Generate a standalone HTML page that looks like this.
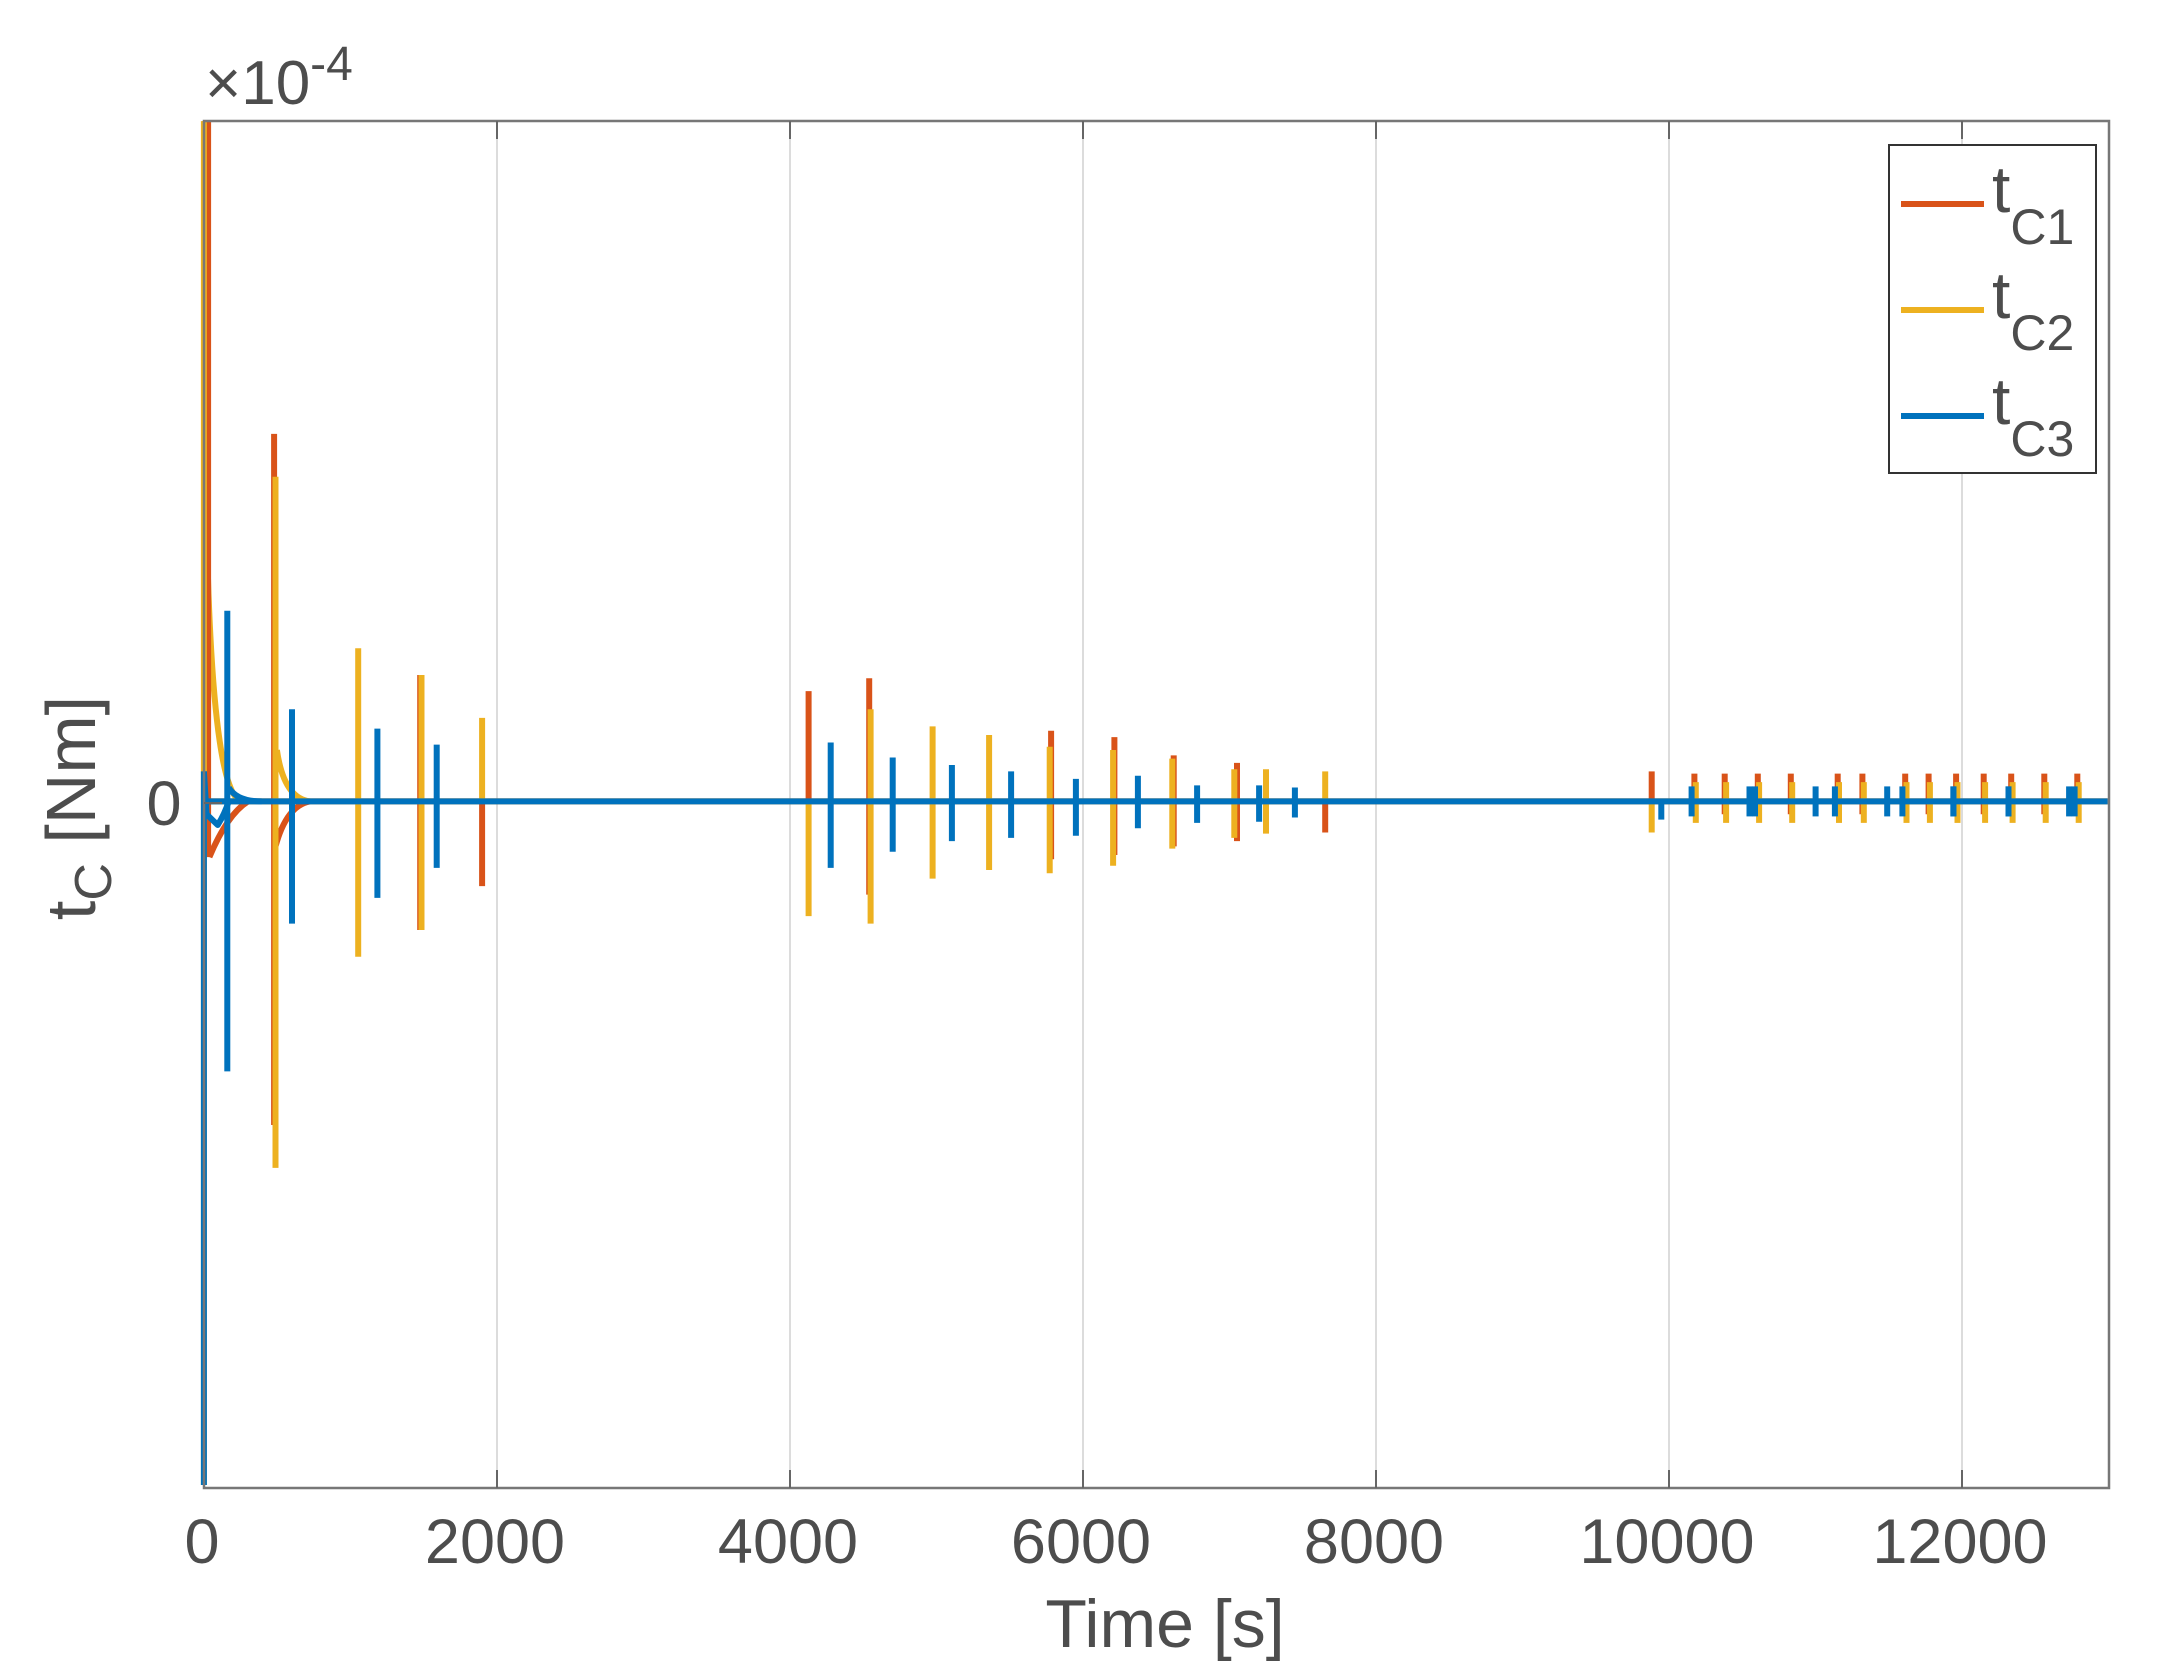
<!DOCTYPE html>
<html><head><meta charset="utf-8"><style>
html,body{margin:0;padding:0;background:#fff;}
svg{display:block;font-family:"Liberation Sans",sans-serif;}
</style></head><body>
<svg id="s" width="2160" height="1680" viewBox="0 0 2160 1680">
<rect width="2160" height="1680" fill="#fff"/>
<g stroke="#dcdcdc" stroke-width="2">
<line x1="497" y1="121" x2="497" y2="1488"/>
<line x1="790" y1="121" x2="790" y2="1488"/>
<line x1="1083" y1="121" x2="1083" y2="1488"/>
<line x1="1376" y1="121" x2="1376" y2="1488"/>
<line x1="1669" y1="121" x2="1669" y2="1488"/>
<line x1="1962" y1="121" x2="1962" y2="1488"/>
</g>
<g id="data" fill="none" stroke-linejoin="round"></g>
<rect x="204" y="121" width="1905" height="1367" fill="none" stroke="#777" stroke-width="2.5"/>
<g stroke="#666" stroke-width="2">
<line x1="497" y1="1488" x2="497" y2="1470"/><line x1="790" y1="1488" x2="790" y2="1470"/><line x1="1083" y1="1488" x2="1083" y2="1470"/><line x1="1376" y1="1488" x2="1376" y2="1470"/><line x1="1669" y1="1488" x2="1669" y2="1470"/><line x1="1962" y1="1488" x2="1962" y2="1470"/>
<line x1="497" y1="121" x2="497" y2="139"/><line x1="790" y1="121" x2="790" y2="139"/><line x1="1083" y1="121" x2="1083" y2="139"/><line x1="1376" y1="121" x2="1376" y2="139"/><line x1="1669" y1="121" x2="1669" y2="139"/><line x1="1962" y1="121" x2="1962" y2="139"/>
<line x1="204" y1="803" x2="222" y2="803"/>
</g>
<g fill="#4d4d4d" font-size="63" text-anchor="middle">
<text x="202" y="1563">0</text><text x="495" y="1563">2000</text><text x="788" y="1563">4000</text><text x="1081" y="1563">6000</text><text x="1374" y="1563">8000</text><text x="1667" y="1563">10000</text><text x="1960" y="1563">12000</text>
<text x="164" y="825">0</text>
<text x="1165" y="1647" font-size="68">Time [s]</text>
</g>
<text transform="translate(95,808) rotate(-90)" fill="#4d4d4d" font-size="70" text-anchor="middle">t<tspan font-size="52" dy="16">C</tspan><tspan dy="-16"> [Nm]</tspan></text>
<text x="205" y="104" fill="#4d4d4d" font-size="62">×10<tspan font-size="48" dy="-24">-4</tspan></text>
<rect x="1889" y="145" width="207" height="328" fill="#fff" stroke="#333" stroke-width="2"/>
<g stroke-width="6">
<line x1="1901" y1="204" x2="1984" y2="204" stroke="#D95319"/>
<line x1="1901" y1="310" x2="1984" y2="310" stroke="#EDB120"/>
<line x1="1901" y1="416" x2="1984" y2="416" stroke="#0072BD"/>
</g>
<g fill="#4d4d4d" font-size="66">
<text x="1992" y="212">t<tspan font-size="50" dy="32">C1</tspan></text>
<text x="1992" y="318">t<tspan font-size="50" dy="32">C2</tspan></text>
<text x="1992" y="424">t<tspan font-size="50" dy="32">C3</tspan></text>
</g>
</svg>
<script>
(function(){
var sx=2160/1568, sy=1680/1568;
var R="#D95319",Y="#EDB120",B="#0072BD";
var Z=748;
var sp=[
[150,113,800,R],[148,113,1386,Y],[165,570,1000,B],
[199,405,1050,R],[200,445,1090,Y],[212,662,862,B],
[260,605,893,Y],[274,680,838,B],[305,630,868,R],[306,630,868,Y],[317,695,810,B],
[350,670,748,Y],[350,748,827,R],
[587,645,748,R],[587,748,855,Y],[603,693,810,B],[631,633,835,R],[632,662,862,Y],[648,707,795,B],
[677,678,820,Y],[691,714,785,B],[718,686,812,Y],[734,720,782,B],[763,682,802,R],[762,697,815,Y],
[781,727,780,B],[809,688,798,R],[808,700,808,Y],[826,724,773,B],[852,705,790,R],[851,708,792,Y],
[869,733,768,B],[898,712,785,R],[896,718,782,Y],[914,733,767,B],[919,718,778,Y],[940,735,763,B],
[962,720,748,Y],[962,748,777,R],
[1199,720,748,R],[1199,748,777,Y],[1206,748,765,B]];
var xs=[1230,1252,1276,1300,1334,1352,1383,1400,1420,1440,1460,1484,1508];
xs.forEach(function(x,i){sp.push([x,722,760,R]);sp.push([x+1,730,768,Y]);sp.push([x-2+((i%2)*20),734,762,B]);});
var g=document.getElementById('data');
var ns="http://www.w3.org/2000/svg";
function add(d,c,w){var p=document.createElementNS(ns,'path');p.setAttribute('d',d);p.setAttribute('stroke',c);p.setAttribute('stroke-width',w||6);g.appendChild(p);}
function P(x,y){return (x*sx).toFixed(1)+","+(y*sy).toFixed(1);}
add("M"+P(146,Z)+"L"+P(1530,Z),R);
add("M"+P(146,Z)+"L"+P(1530,Z),Y);
add("M"+P(151,540)+"Q"+P(156,740)+" "+P(175,748),Y);
add("M"+P(152,800)+"Q"+P(165,760)+" "+P(180,748),R);
add("M"+P(201,700)+"Q"+P(206,745)+" "+P(225,748),Y);
add("M"+P(200,790)+"Q"+P(208,752)+" "+P(225,748),R);
var cols={};cols[R]=[];cols[Y]=[];cols[B]=[];
sp.forEach(function(s){cols[s[3]].push(s);});
[R,Y].forEach(function(c){cols[c].forEach(function(s){add("M"+P(s[0],s[1])+"L"+P(s[0],s[2]),c,s[0]==150?9:6);});});
add("M"+P(146,Z)+"L"+P(1530,Z),B);
add("M"+P(148,720)+"L"+P(150,760)+"L"+P(158,770)+"Q"+P(163,760)+" "+P(166,748),B);
add("M"+P(166,735)+"Q"+P(172,748)+" "+P(190,748),B);
cols[B].forEach(function(s){add("M"+P(s[0],s[1])+"L"+P(s[0],s[2]),B);});
add("M"+P(148,720)+"L"+P(148,1386),B);
})();
</script>
</body></html>
